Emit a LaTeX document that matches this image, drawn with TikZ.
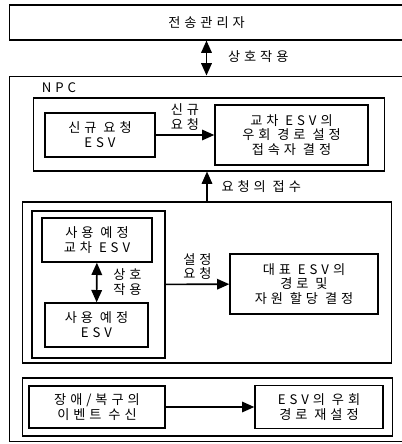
\documentclass[tikz,border=0pt]{standalone}
\usepackage{fontspec}
\newfontfamily\krfont[LetterSpace=30]{Noto Sans CJK KR}
\usetikzlibrary{arrows.meta, positioning}

\begin{document}
\begin{tikzpicture}[
  x=0.02cm, y=-0.02cm,
  every node/.style={font=\krfont\fontsize{7.5}{8.5}\selectfont},
  box/.style={rectangle, draw, line width=0.8pt,
    align=center, inner sep=1pt},
  frame/.style={rectangle, draw, line width=0.6pt, inner sep=0pt},
  arr/.style={-{Triangle[length=7pt,width=6pt]}, line width=0.9pt},
  dbl/.style={{Triangle[length=7pt,width=6pt]}-{Triangle[length=7pt,width=6pt]},
    line width=0.9pt},
  lbl/.style={align=center, inner sep=1pt}
]
  \useasboundingbox (0,0) rectangle (402,444);

  % Top: manager and NPC frame
  \node[frame, minimum width=7.9cm, minimum height=0.7cm] (mgr) at (206.5,22.5) {전송관리자};
  \node[frame, minimum width=7.9cm, minimum height=7.32cm] (npc) at (206.5,259) {};
  \node[inner sep=0pt] (npclbl) at (59,88) {NPC};
  \draw[dbl] (mgr) -- node[lbl, pos=0.45, right=0.38cm]{상호작용} (npc);

  % Group 1
  \node[frame, minimum width=7.04cm, minimum height=1.46cm] (g1) at (209,134.5) {};
  \node[box, minimum width=2.2cm, minimum height=0.88cm] (newreq) at (100,135)
    {신규 요청\\ESV};
  \node[box, minimum width=3.06cm, minimum height=1.2cm] (detour) at (291.5,135)
    {교차 ESV의\\우회 경로 설정\\접속자 결정};
  \draw[arr] (newreq) -- node[lbl, above=1pt]{신규\\요청} (detour);

  % Group 2
  \node[frame, minimum width=7.4cm, minimum height=3.22cm] (g2) at (207,282.5) {};
  \node[frame, minimum width=2.66cm, minimum height=2.94cm] (g2in) at (98.5,284.5) {};
  \node[box, minimum width=2.2cm, minimum height=0.88cm] (cross) at (97,240)
    {사용 예정\\교차 ESV};
  \node[box, minimum width=2.06cm, minimum height=0.88cm] (plan) at (96.5,325)
    {사용 예정\\ESV};
  \node[box, minimum width=2.96cm, minimum height=1.2cm] (alloc) at (304,284)
    {대표 ESV의\\경로 및\\자원 할당 결정};
  \draw[dbl] (cross) -- node[lbl, right=0.28cm]{상호\\작용} (plan);
  \draw[arr] (g2in) -- node[lbl, above=1pt]{설정\\요청} (alloc);
  \draw[arr] (g2.north) -- node[lbl, right=0.24cm]{요청의 접수} (g2.north |- g1.south);

  % Group 3
  \node[frame, minimum width=7.42cm, minimum height=1.16cm] (g3) at (207.5,407) {};
  \node[box, minimum width=2.72cm, minimum height=0.84cm] (fault) at (97,407)
    {장애/복구의\\이벤트 수신};
  \node[box, minimum width=2.56cm, minimum height=0.86cm] (reroute) at (319,407)
    {ESV의 우회\\경로 재설정};
  \draw[arr] (fault) -- (reroute);
\end{tikzpicture}
\end{document}
